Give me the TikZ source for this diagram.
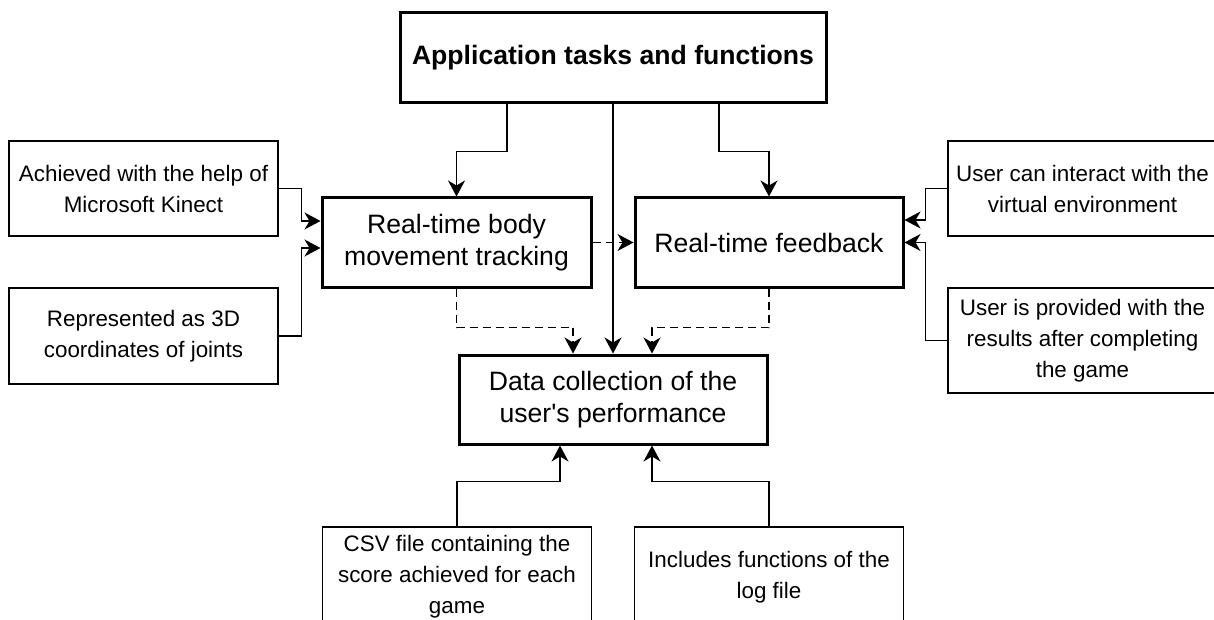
\documentclass[tikz,border=0pt]{standalone}
\usepackage{fontspec}
\setmainfont{Liberation Sans}
\usetikzlibrary{arrows.meta}
\begin{document}
\begin{tikzpicture}
[x=0.5pt,y=-0.5pt,
main box/.style={draw,line width=1.5pt,align=center,inner sep=0pt,
  font=\fontsize{13.3}{15.8}\selectfont},
note box/.style={draw,line width=0.7pt,align=center,inner sep=0pt,
  minimum width=134.5pt,font=\fontsize{11.2}{15.5}\selectfont},
link/.style={line width=0.75pt,-{Stealth[length=8pt,width=8.5pt,inset=2.5pt]}},
weak link/.style={link,dash pattern=on 4pt off 2.5pt}]
\clip (0,0) rectangle (1214,620);
\node[main box,minimum width=213pt,minimum height=45pt] (app) at (613,58)
  {\bfseries Application tasks and functions};
\node[main box,minimum width=134.5pt,minimum height=44.5pt] (track) at (456.5,242.5)
  {Real-time body\\movement tracking};
\node[main box,minimum width=134pt,minimum height=44.5pt] (feedback) at (769,242.5)
  {Real-time feedback};
\node[main box,minimum width=154pt,minimum height=44.5pt] (data) at (613,399.5)
  {Data collection of the\\user\textquotesingle s performance};
\node[note box,minimum height=47.5pt] (kinect) at (143.5,188.5)
  {Achieved with the help of\\Microsoft Kinect};
\node[note box,minimum height=48pt] (joints) at (143.5,336)
  {Represented as 3D\\coordinates of joints};
\node[note box,minimum height=47.5pt] (interact) at (1082.5,188.5)
  {User can interact with the\\virtual environment};
\node[note box,minimum height=52.5pt] (results) at (1082.5,340.5)
  {User is provided with the\\results after completing\\the game};
\node[note box,minimum height=50pt] (csv) at (457,577)
  {CSV file containing the\\score achieved for each\\game};
\node[note box,minimum height=50pt] (logfile) at (769,577)
  {Includes functions of the\\log file};
\draw[link] ([xshift=-53pt]app.south) -- ++(0,47) -| (track.north);
\draw[link] ([xshift=53pt]app.south) -- ++(0,47) -| (feedback.north);
\draw[link] (app.south) -- (data.north);
\draw[weak link] (track.east) -- (feedback.west);
\draw[weak link] (track.south) -- ++(0,39) -| ([xshift=-20pt]data.north);
\draw[weak link] (feedback.south) -- ++(0,39) -| ([xshift=19.5pt]data.north);
\draw[link] (kinect.east) -- ++(23,0) |- ([yshift=10.75pt]track.west);
\draw[link] (joints.east) -- ++(23,0) |- ([yshift=-2.75pt]track.west);
\draw[link] (interact.west) -- ++(-22,0) |- ([yshift=11.25pt]feedback.east);
\draw[link] (results.west) -- ++(-22,0) |- (feedback.east);
\draw[link] (csv.north) -- ++(0,-45) -| ([xshift=-26.5pt]data.south);
\draw[link] (logfile.north) -- ++(0,-45) -| ([xshift=19.5pt]data.south);
\end{tikzpicture}
\end{document}
